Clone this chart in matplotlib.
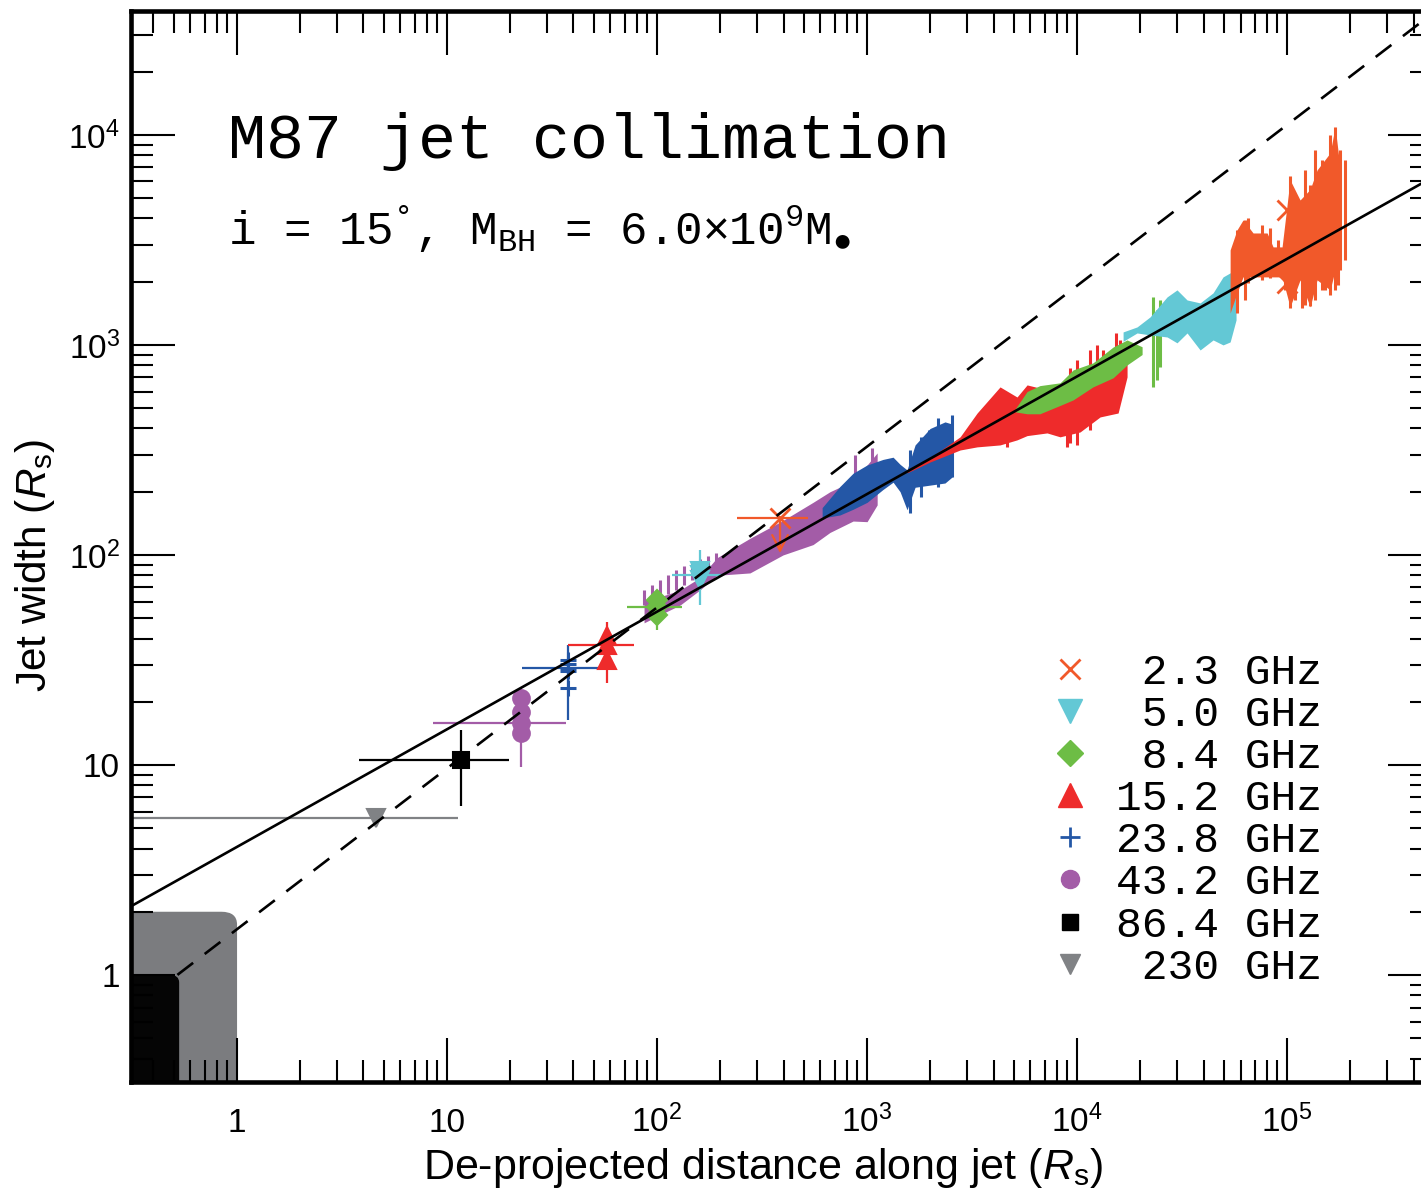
import numpy as np
import matplotlib
matplotlib.use('Agg')
import matplotlib.pyplot as plt
from matplotlib.lines import Line2D
from matplotlib.patches import FancyBboxPatch
from matplotlib.ticker import LogLocator, FixedLocator, FuncFormatter, NullFormatter

plt.rcParams['font.family'] = 'Liberation Sans'
plt.rcParams['mathtext.fontset'] = 'custom'
plt.rcParams['mathtext.rm'] = 'Liberation Sans'
plt.rcParams['mathtext.it'] = 'Liberation Sans:italic'
plt.rcParams['mathtext.sf'] = 'Liberation Sans'
plt.rcParams['mathtext.tt'] = 'Liberation Mono'

# colours per frequency
c23 = '#f1592a'
c50 = '#63c8d5'
c84 = '#6dbd45'
c152 = '#ee2b2b'
c238 = '#2457a6'
c432 = '#a35ca7'
c864 = '#000000'
c230 = '#808285'

# fitted profiles  W = norm * z**index
para_norm, para_index = 10**0.61, 0.56
cone_norm, cone_index = 10**0.218, 0.766
cone_start = 0.52

# shaded zones near the black hole
bh_x = [0.53, 1.0]
bh_y = [1.0, 2.0]

# ---- single measurements ----
# 2.3 GHz
x23 = [385, 1.0e5, 1.0e5]
y23 = [150, 4400, 1970]
x23_lo, x23_hi = 240, 524
y23_lim = 102
# 5.0 GHz
x50 = [160, 160, 160]
y50 = [84, 80.3, 76]
x50_lo, x50_hi = 118, 206
y50_lo, y50_hi = 57.8, 106
# 8.4 GHz
x84 = [100, 100, 100]
y84 = [61, 56.6, 51.8]
x84_lo, x84_hi = 72, 131.5
y84_lo, y84_hi = 44, 68.1
# 15.2 GHz
x152 = [57.8, 57.8, 57.8]
y152 = [41.1, 37.3, 31.6]
x152_lo, x152_hi = 37.7, 77.7
y152_lo, y152_hi = 24.6, 48
# 23.8 GHz
x238 = [37.7, 37.7, 37.7, 37.7, 37.7]
y238 = [31.5, 30.2, 29.0, 27.9, 23.3]
x238_lo, x238_hi = 22.8, 52.9
y238_lo, y238_hi = 16.4, 37.3
# 43.2 GHz
x432 = [22.5, 22.5, 22.5, 22.5]
y432 = [20.8, 17.9, 15.8, 14.2]
x432_lo, x432_hi = 8.6, 37
y432_lo, y432_hi = 9.8, 23.3
# 86.4 GHz
x864, y864 = [11.7], [10.6]
x864_lo, x864_hi = 3.8, 19.7
y864_lo, y864_hi = 6.4, 14.7
# 230 GHz
x230, y230 = [4.6], [5.6]
x230_lo, x230_hi = 0.0, 11.3

# ---- dense profiles (envelopes + spikes) ----
p_x = [86.7, 103, 129, 160, 193, 277, 398, 553, 666, 858, 1000, 1117]
p_lo = [47.5, 51.8, 57.8, 68.1, 80, 82.1, 100, 112, 128, 145, 144, 173]
p_hi = [61.1, 63.1, 68.1, 78, 97, 120, 146, 178, 200, 225, 268, 306]
ph_x = [86.7, 94.6, 103, 113, 123, 134, 147, 160, 175, 191]
ph_lo = [58, 60, 62, 65, 68, 72, 76, 80, 85, 90]
ph_hi = [68.1, 71.9, 76.0, 80.3, 84.9, 88.7, 92.6, 95.7, 98.9, 102]
ps_x = [877, 1056]
ps_lo = [147, 193]
ps_hi = [299, 323]

b_x = [611, 743, 858, 1000, 1191, 1330, 1436, 1550, 1693, 1995, 2350, 2540]
b_lo = [150, 155, 165, 178, 205, 222, 200, 164, 210, 215, 220, 235]
b_hi = [168, 212, 245, 268, 285, 292, 270, 254, 334, 400, 430, 420]
bs_x = [1603, 1800, 1963, 2170, 2350, 2540]
bs_lo = [158, 188, 219, 211, 236, 236]
bs_hi = [316, 363, 394, 449, 424, 463]

r_x = [1550, 1995, 2773, 3342, 4297, 5176, 5780, 7194, 8298, 10330, 12870, 15680, 17300]
r_lo = [246, 277, 316, 327, 334, 353, 370, 381, 365, 385, 454, 474, 704]
r_hi = [254, 290, 365, 474, 631, 565, 645, 611, 640, 700, 760, 820, 849]
rs_x = [4640, 8955, 9260, 10000, 11530, 12450, 13300, 15350, 16030]
rs_lo = [327, 327, 340, 334, 394, 464, 474, 547, 579]
rs_hi = [500, 640, 777, 849, 946, 996, 946, 1140, 1056]

g_x = [5070, 5780, 6650, 8300, 9570, 11900, 14840, 17300, 20400]
g_lo = [480, 470, 470, 515, 547, 631, 697, 803, 900]
g_hi = [495, 600, 640, 660, 760, 821, 977, 1056, 980]
gs_x = [23000, 24040, 24830]
gs_lo = [631, 681, 786]
gs_hi = [1693, 1468, 1637]

c_x = [16560, 19300, 22270, 26830, 29910, 33400, 38540, 44430, 49560, 53550, 57150]
c_lo = [1040, 1140, 1116, 1091, 1023, 1140, 946, 1056, 1000, 1033, 1315]
c_hi = [1153, 1218, 1360, 1693, 1828, 1637, 1585, 1770, 2108, 2203, 2276]

o_x = [53550, 57760, 61700, 68880, 80350, 85770, 94650, 103300, 115300, 128700, 138900, 160300, 169300, 178700]
o_lo = [1420, 1770, 2108, 2108, 2108, 2108, 2108, 1517, 2040, 1517, 2040, 1828, 2276, 4744]
o_hi = [2833, 3531, 3937, 3412, 3412, 2929, 2929, 6105, 4900, 5500, 6808, 8206, 10920, 7000]
os_x = [57760, 63100, 65200, 71150, 76000, 83000, 90600, 97800, 103300, 109100, 117800,
        121900, 128700, 135900, 146900, 151700, 160300, 169300, 175000, 178700, 188800]
os_lo = [1420, 1637, 1973, 2276, 2040, 2084, 2154, 1828, 1500, 1637, 1500,
         1550, 1540, 1637, 1828, 1828, 1730, 1828, 1931, 2276, 2540]
os_hi = [3531, 3937, 4027, 3162, 3727, 3606, 3162, 2993, 6400, 3342, 4900,
         6808, 5780, 8483, 7600, 5780, 10000, 10920, 7600, 8500, 7600]

labels = [' 2.3 GHz', ' 5.0 GHz', ' 8.4 GHz', '15.2 GHz', '23.8 GHz', '43.2 GHz', '86.4 GHz', ' 230 GHz']

xlim = (0.3126, 4.898e5)
ylim = (0.3093, 3.89e4)
xmajor = [1, 10, 1e2, 1e3, 1e4, 1e5]
ymajor = [1, 10, 1e2, 1e3, 1e4]

fig = plt.figure(figsize=(14.21, 11.94), dpi=100)
ax = fig.add_axes([131/1421, 112/1194, 1301/1421, 1071/1194])
ax.set_xscale('log')
ax.set_yscale('log')
ax.set_xlim(*xlim)
ax.set_ylim(*ylim)

# shaded zones at the origin
trans = ax.transData + ax.transAxes.inverted()
for bx, by, col, rad in [(bh_x[1], bh_y[1], '#7b7c7f', 0.012), (bh_x[0], bh_y[0], '#050505', 0.007)]:
    cx, cy = trans.transform((bx, by))
    ax.add_patch(FancyBboxPatch((-0.1, -0.1), cx + 0.1, cy + 0.1,
                                boxstyle='round,pad=0,rounding_size=%g' % rad,
                                transform=ax.transAxes, fc=col, ec='none', zorder=1))

lw_bar = 1.6

def band(x, lo, hi, col, z):
    ax.fill_between(x, lo, hi, color=col, lw=0, zorder=z)

def spikes(x, lo, hi, col, z):
    ax.vlines(x, lo, hi, color=col, lw=2.2, zorder=z)

band(p_x, p_lo, p_hi, c432, 2)
spikes(ph_x, ph_lo, ph_hi, c432, 2)
spikes(ps_x, ps_lo, ps_hi, c432, 2)
band(b_x, b_lo, b_hi, c238, 3)
spikes(bs_x, bs_lo, bs_hi, c238, 3)
band(r_x, r_lo, r_hi, c152, 4)
spikes(rs_x, rs_lo, rs_hi, c152, 4)
band(g_x, g_lo, g_hi, c84, 5)
spikes(gs_x, gs_lo, gs_hi, c84, 5)
band(c_x, c_lo, c_hi, c50, 6)
band(o_x, o_lo, o_hi, c23, 7)
spikes(os_x, os_lo, os_hi, c23, 7)

def point(x, y, xl, xh, yl, yh, col, mk, ms, mew=1.5, xi=None):
    # error bars on one point, markers on all
    i = len(y) // 2 if xi is None else xi
    ax.errorbar([x[i]], [y[i]], xerr=[[x[i] - xl], [xh - x[i]]],
                fmt='none', ecolor=col, elinewidth=lw_bar, zorder=8)
    ax.vlines([x[0]], yl, yh, color=col, lw=lw_bar, zorder=8)
    ax.plot(x, y, ls='none', marker=mk, ms=ms, color=col, mec=col, mew=mew, zorder=8)

point(x230, y230, x230_lo, x230_hi, y230[0], y230[0], c230, 'v', 13)
point(x864, y864, x864_lo, x864_hi, y864_lo, y864_hi, c864, 's', 12)
point(x432, y432, x432_lo, x432_hi, y432_lo, y432_hi, c432, 'o', 12, xi=2)
point(x238, y238, x238_lo, x238_hi, y238_lo, y238_hi, c238, '+', 12, mew=2.2, xi=2)
point(x152, y152, x152_lo, x152_hi, y152_lo, y152_hi, c152, '^', 13, xi=1)
point(x84, y84, x84_lo, x84_hi, y84_lo, y84_hi, c84, 'D', 10, xi=1)
point(x50, y50, x50_lo, x50_hi, y50_lo, y50_hi, c50, 'v', 13, xi=1)

# 2.3 GHz upper limit
ax.errorbar([x23[0]], [y23[0]], xerr=[[x23[0] - x23_lo], [x23_hi - x23[0]]],
            fmt='none', ecolor=c23, elinewidth=lw_bar, zorder=8)
ax.annotate('', xy=(x23[0], y23_lim), xytext=(x23[0], y23[0]),
            arrowprops=dict(arrowstyle='->', color=c23, lw=lw_bar, mutation_scale=28,
                            shrinkA=0, shrinkB=0), zorder=8)
ax.plot(x23, y23, ls='none', marker='x', ms=14, mew=2, color=c23, zorder=8)

# model lines
zz = np.logspace(np.log10(xlim[0]), np.log10(xlim[1]), 50)
ax.plot(zz, para_norm * zz**para_index, color='k', lw=1.9, zorder=10)
zc = np.logspace(np.log10(cone_start), np.log10(xlim[1]), 50)
ax.plot(zc, cone_norm * zc**cone_index, color='k', lw=1.9, ls=(0, (7.5, 5.5)), zorder=10)

# ticks
ax.xaxis.set_major_locator(FixedLocator(xmajor))
ax.yaxis.set_major_locator(FixedLocator(ymajor))
for axis in (ax.xaxis, ax.yaxis):
    axis.set_minor_locator(LogLocator(base=10, subs=np.arange(2, 10), numticks=20))
    axis.set_minor_formatter(NullFormatter())

def fmt(v, pos):
    if abs(v - 1) < 1e-9:
        return '1'
    if abs(v - 10) < 1e-9:
        return '10'
    return r'$10^{%d}$' % round(np.log10(v))

ax.xaxis.set_major_formatter(FuncFormatter(fmt))
ax.yaxis.set_major_formatter(FuncFormatter(fmt))
ax.tick_params(which='both', direction='in', top=True, right=True, width=1.5, labelsize=24)
ax.tick_params(which='major', length=32)
ax.tick_params(which='minor', length=16)
ax.tick_params(axis='x', which='major', pad=36)
ax.tick_params(axis='y', which='major', pad=8)
for sp in ax.spines.values():
    sp.set_linewidth(3.3)
    sp.set_zorder(20)

ax.set_xlabel(r'De-projected distance along jet ($\mathit{R}_{\mathrm{s}}$)', fontsize=31)
ax.set_ylabel(r'Jet width ($\mathit{R}_{\mathrm{s}}$)', fontsize=30.5)
ax.xaxis.set_label_coords(0.4858, -0.0600)
ax.yaxis.set_label_coords(-0.0569, 0.4827)

ax.text(0.0745, 0.8627, 'M87 jet collimation', transform=ax.transAxes,
        fontfamily='Liberation Mono', fontsize=45.5, va='baseline', ha='left')
ax.text(0.0745, 0.7815,
        r'i = 15$^{\mathtt{°}}$, M$_{\mathtt{BH}}$ = 6.0$\times$10$^{\mathtt{9}}$M$_{\mathtt{●}}$',
        transform=ax.transAxes, fontfamily='Liberation Mono', fontsize=33,
        va='baseline', ha='left')

handles = [
    Line2D([], [], ls='none', marker='x', ms=14, mew=2, color=c23),
    Line2D([], [], ls='none', marker='v', ms=17, color=c50),
    Line2D([], [], ls='none', marker='D', ms=13, color=c84),
    Line2D([], [], ls='none', marker='^', ms=17, color=c152),
    Line2D([], [], ls='none', marker='+', ms=14, mew=2, color=c238),
    Line2D([], [], ls='none', marker='o', ms=13, color=c432),
    Line2D([], [], ls='none', marker='s', ms=12, color=c864),
    Line2D([], [], ls='none', marker='v', ms=14, color=c230),
]
leg = ax.legend(handles, labels, loc='upper left', bbox_to_anchor=(0.667, 0.437),
                frameon=False, prop=dict(family='Liberation Mono', size=31),
                handlelength=1.5, handletextpad=0.33, labelspacing=0.05,
                borderpad=0.4, numpoints=1)
leg.set_zorder(30)

fig.canvas.draw()
for t in ax.xaxis.get_major_ticks():
    t.label1.set_va('baseline')

fig.savefig('out.png', dpi=100)
